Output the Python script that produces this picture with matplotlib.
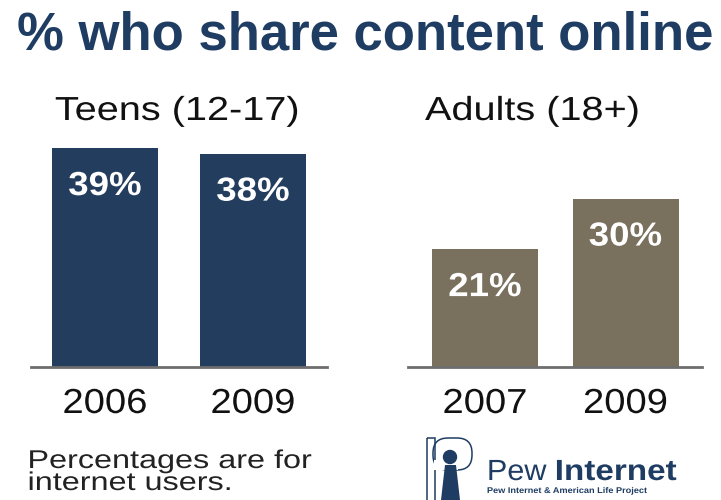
import matplotlib.pyplot as plt
from matplotlib.patches import Rectangle, Circle, FancyBboxPatch, Polygon
from matplotlib.patheffects import AbstractPathEffect
from matplotlib.transforms import Affine2D

plt.rcParams['font.family'] = ['Liberation Sans', 'DejaVu Sans']

teen_years = ["2006", "2009"]
teen_share = [39, 38]
adult_years = ["2007", "2009"]
adult_share = [21, 30]

navy = "#233d5e"
khaki = "#7a705e"
title_blue = "#1f3d63"

W, H = 721, 500
PX = 5.615  # pixels per percentage point


class Widen(AbstractPathEffect):
    """Horizontally widen glyphs, keeping the left edge or the centre fixed."""

    def __init__(self, sx, center=False):
        super().__init__()
        self.sx = sx
        self.center = center

    def draw_path(self, renderer, gc, tpath, affine, rgbFace=None):
        ext = tpath.get_extents()
        cx = (ext.x0 + ext.x1) / 2 if self.center else ext.x0
        t = Affine2D().translate(-cx, 0).scale(self.sx, 1).translate(cx, 0) + affine
        renderer.draw_path(gc, tpath, t, rgbFace)


fig = plt.figure(figsize=(7.21, 5), dpi=100)


def panel(x0, x1, years, vals, color, xl):
    # axes in pixel units, baseline at y=367 from top
    ax = fig.add_axes([x0 / W, (H - 367) / H, (x1 - x0) / W, 45 * PX / H])
    ax.bar(range(len(vals)), vals, width=xl[2], color=color)
    ax.set_xlim(xl[0], xl[1])
    ax.set_ylim(0, 45)
    for s in ["top", "right", "left"]:
        ax.spines[s].set_visible(False)
    ax.spines["bottom"].set_color("#6e6e6e")
    ax.spines["bottom"].set_linewidth(2)
    ax.set_yticks([])
    ax.set_xticks(range(len(vals)))
    ax.set_xticklabels(years, fontsize=25, color="#111111")
    ax.tick_params(axis="x", length=0, pad=46 * 0.72)
    for lbl in ax.get_xticklabels():
        lbl.set_va("baseline")
        lbl.set_path_effects([Widen(1.1, center=True)])
    for i, v in enumerate(vals):
        ax.text(i, v - 47 / PX, f"{v}%", ha="center", va="baseline", color="white",
                fontsize=24, fontweight="bold", path_effects=[Widen(1.1, center=True)])
    return ax


panel(31, 327, teen_years, teen_share, navy, (-0.5, 1.5, 0.716))
panel(408, 702, adult_years, adult_share, khaki, (-0.548, 1.544, 0.754))

fig.text(365 / W, 1 - 50 / H, "% who share content online", ha="center", va="baseline",
         fontsize=38, fontweight="bold", color=title_blue)
fig.text(55 / W, 1 - 120 / H, "Teens (12-17)", ha="left", va="baseline", fontsize=24,
         color="#111111", path_effects=[Widen(1.19)])
fig.text(425 / W, 1 - 120 / H, "Adults (18+)", ha="left", va="baseline", fontsize=24,
         color="#111111", path_effects=[Widen(1.19)])
fig.text(28 / W, 1 - 468 / H, "Percentages are for", ha="left", va="baseline",
         fontsize=18.5, color="#222222", path_effects=[Widen(1.26)])
fig.text(28 / W, 1 - 490 / H, "internet users.", ha="left", va="baseline",
         fontsize=18.5, color="#222222", path_effects=[Widen(1.26)])

# logo
lg = fig.add_axes([0, 0, 1, 1], facecolor="none")
lg.set_xlim(0, W)
lg.set_ylim(H, 0)
lg.axis("off")
lg.add_patch(Rectangle((427, 438), 8, 64, fill=False, ec=title_blue, lw=1.1))
lg.add_patch(FancyBboxPatch((433, 438), 39, 32, boxstyle="round,pad=0,rounding_size=15",
                            fill=False, ec=title_blue, lw=1.1))
lg.add_patch(Rectangle((434, 460), 24, 10, color="white", lw=0))
lg.add_patch(Circle((450, 457), 6.5, color=title_blue))
lg.add_patch(Polygon([(445, 465), (456, 465), (460, 500), (441, 500)], closed=True,
                     color=title_blue, lw=0))
lg.text(487, 480, "Pew", fontsize=21, color=title_blue, va="baseline", ha="left",
        path_effects=[Widen(1.05)])
lg.text(555, 480, "Internet", fontsize=21, fontweight="bold", color=title_blue,
        va="baseline", ha="left", path_effects=[Widen(1.14)])
lg.text(487, 491.5, "Pew Internet & American Life Project", fontsize=6, fontweight="bold",
        color=title_blue, va="center", ha="left", path_effects=[Widen(1.1)])

fig.savefig("out.png", dpi=100, facecolor="white")
